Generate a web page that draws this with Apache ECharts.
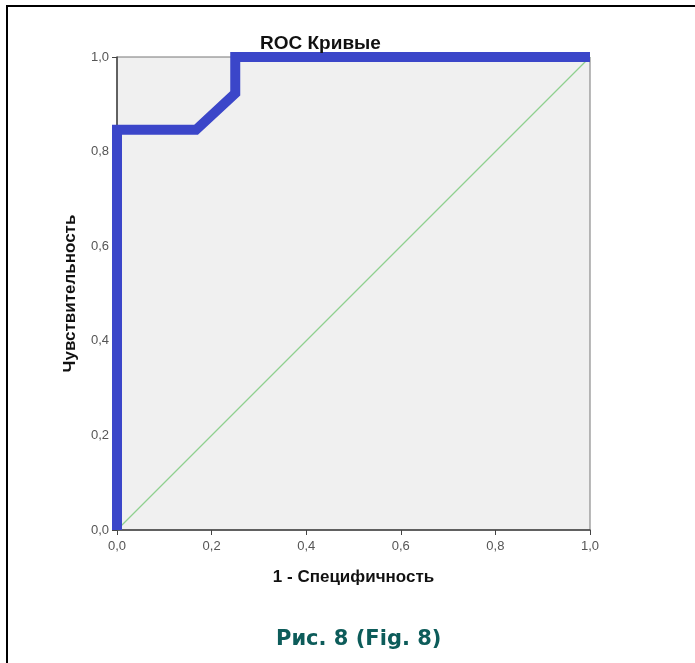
<!DOCTYPE html>
<html>
<head>
<meta charset="utf-8">
<script src="https://cdn.jsdelivr.net/npm/echarts@6/dist/echarts.min.js"></script>
<style>
  html, body { margin: 0; padding: 0; background: #fff; }
  #chart { width: 695px; height: 663px; }
</style>
</head>
<body>
<div id="chart"></div>
<script>
// ROC curve (1 - specificity, sensitivity)
var rocFpr = [0, 0, 0.167, 0.25, 0.25, 1]
var rocTpr = [0, 0.846, 0.846, 0.923, 1, 1]
// reference diagonal
var refFpr = [0, 1]
var refTpr = [0, 1]

var titleText = 'ROC Кривые'
var xName = '1 - Специфичность'
var yName = 'Чувствительность'
var captionText = 'Рис. 8 (Fig. 8)'

function pairs (xs, ys) {
  return xs.map(function (x, i) { return [x, ys[i]] })
}
function commaLabel (v) {
  return v.toFixed(1).replace('.', ',')
}

var myChart = echarts.init(document.getElementById('chart'))
myChart.setOption({
  backgroundColor: '#fff',
  animation: false,
  textStyle: { fontFamily: 'Liberation Sans' },
  title: [
    {
      text: titleText,
      left: 255,
      top: 29,
      textStyle: { fontSize: 19, fontWeight: 'bold', color: '#111', fontFamily: 'Liberation Sans' }
    },
    {
      text: captionText,
      left: 271,
      top: 624,
      textStyle: { fontSize: 21, fontWeight: 'bold', color: '#0d5c5a', fontFamily: 'DejaVu Sans' }
    }
  ],
  graphic: [
    { type: 'line', shape: { x1: 6, y1: 6, x2: 695, y2: 6 }, style: { stroke: '#000', lineWidth: 2 } },
    { type: 'line', shape: { x1: 7, y1: 6, x2: 7, y2: 663 }, style: { stroke: '#000', lineWidth: 2 } }
  ],
  grid: {
    left: 117,
    right: 105,
    top: 57,
    bottom: 133,
    show: true,
    backgroundColor: '#f0f0f0',
    borderColor: '#777',
    borderWidth: 1
  },
  xAxis: {
    type: 'value',
    min: 0,
    max: 1,
    interval: 0.2,
    name: xName,
    nameLocation: 'middle',
    nameGap: 39,
    nameTextStyle: { fontSize: 17, fontWeight: 'bold', color: '#111' },
    axisLine: { show: true, lineStyle: { color: '#444', width: 1.5 } },
    axisTick: { show: true, length: 5, lineStyle: { color: '#444' } },
    axisLabel: { formatter: commaLabel, fontSize: 13, color: '#555', margin: 10 },
    splitLine: { show: false }
  },
  yAxis: {
    type: 'value',
    min: 0,
    max: 1,
    interval: 0.2,
    name: yName,
    nameLocation: 'middle',
    nameGap: 38,
    nameTextStyle: { fontSize: 17, fontWeight: 'bold', color: '#111' },
    axisLine: { show: true, lineStyle: { color: '#444', width: 1.5 } },
    axisTick: { show: true, length: 5, lineStyle: { color: '#444' } },
    axisLabel: { formatter: commaLabel, fontSize: 13, color: '#555', margin: 8 },
    splitLine: { show: false }
  },
  series: [
    {
      name: 'reference',
      type: 'line',
      data: pairs(refFpr, refTpr),
      symbol: 'none',
      lineStyle: { color: '#8fd08f', width: 1.2 },
      z: 2
    },
    {
      name: 'ROC',
      type: 'line',
      data: pairs(rocFpr, rocTpr),
      symbol: 'none',
      clip: false,
      lineStyle: { color: '#3b46c9', width: 10, join: 'miter', cap: 'butt' },
      z: 3
    }
  ]
})
</script>
</body>
</html>
